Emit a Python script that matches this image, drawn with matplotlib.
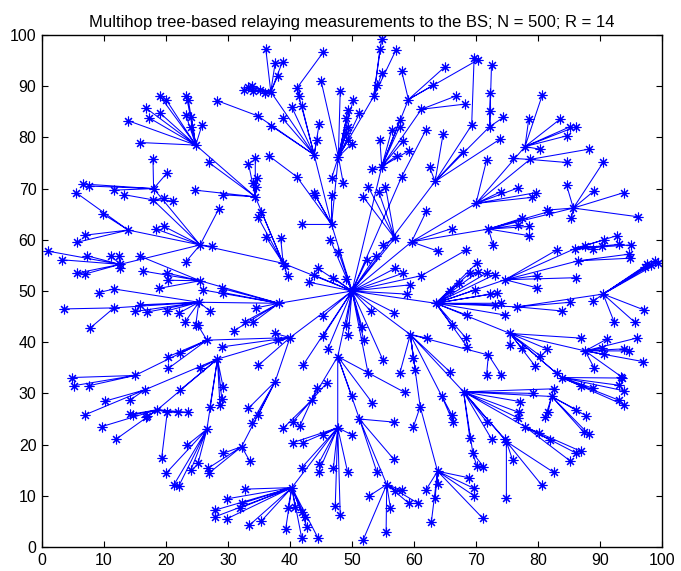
import numpy as np
import matplotlib
matplotlib.use("Agg")
import matplotlib.pyplot as plt

# Base station position
bs_x, bs_y = 50.0, 50.0

# Relay nodes: position and index of the upstream relay (-1 = base station)
relay_x = [46.7, 47.8, 43.9, 41.1, 36.9, 41.1, 53.5, 54.8, 59.1, 61.2,
           58.0, 63.4, 69.3, 72.2, 59.6, 70.0, 77.9, 78.7, 72.0, 85.7,
           56.9, 61.2, 63.5, 74.7, 86.0, 86.5, 76.6, 90.5, 75.5, 83.8,
           87.6, 59.4, 72.0, 68.0, 69.5, 77.9, 74.9, 82.2, 61.0, 63.8,
           64.5, 47.7, 43.5, 47.7, 40.3, 51.2, 55.6, 40.0, 37.6, 32.2,
           28.3, 16.6, 18.6, 20.2, 26.6, 26.6, 15.0, 38.2, 25.5, 25.3,
           11.6, 11.6, 38.9, 25.5, 13.9, 12.6, 18.0, 17.9, 34.4, 24.8,
           34.8]
relay_y = [63.0, 76.2, 76.6, 89.6, 88.9, 72.3, 88.0, 74.3, 87.4, 85.5,
           72.3, 71.4, 82.4, 82.1, 59.6, 67.1, 78.2, 75.7, 62.1, 66.2,
           60.3, 53.0, 47.6, 52.2, 58.3, 55.9, 46.9, 49.4, 41.7, 33.1,
           38.3, 41.5, 37.5, 30.3, 18.3, 23.5, 20.6, 29.4, 27.4, 14.8,
           29.4, 37.2, 28.7, 23.3, 11.6, 25.0, 12.2, 40.9, 32.3, 19.6,
           36.7, 30.7, 26.8, 26.3, 23.0, 40.4, 33.5, 47.6, 52.0, 47.8,
           50.4, 46.7, 55.4, 59.0, 61.9, 55.2, 70.0, 67.8, 68.4, 78.5,
           84.2]
relay_up = [-1, 0, 0, 2, 2, 0, 1, -1, 7, 7,
            -1, -1, 11, 11, -1, 14, 15, 15, 14, 18,
            -1, -1, -1, 22, 23, 23, 22, 26, 22, 28,
            28, -1, 31, 31, 33, 33, 33, 33, 31, 38,
            31, -1, 41, 41, 43, 41, 45, -1, 47, 48,
            47, 50, 50, 52, 50, 47, 55, -1, 57, 57,
            59, 59, -1, 62, 63, 63, 63, 63, 62, 68,
            2]

# Sensor nodes: position and index of the relay they report to (-1 = base station)
leaf_x = [42.0, 43.9, 46.7, 44.0,
          48.1, 45.0, 49.4, 49.1, 49.4, 49.1, 49.4, 50.2, 51.2, 50.0, 46.7, 48.6,
          40.3, 41.9, 38.8, 36.9, 44.7, 44.3,
          45.4, 41.5,
          36.1, 37.6, 38.8, 38.0, 32.5, 33.2, 33.8, 34.0, 35.1, 36.0,
          36.6,
          54.8, 54.5, 57.1, 54.8, 54.1,
          54.5, 56.4, 57.7, 57.7, 58.2, 59.2, 57.2, 53.2,
          58.0, 65.0, 63.1, 70.4,
          66.8, 68.2,
          61.9,
          73.8, 67.9, 64.7, 62.5,
          69.7,
          72.5, 72.3, 72.2, 74.4,
          62.0, 63.8, 66.1,
          71.7, 74.0, 76.7, 79.6, 79.1,
          80.7, 78.5, 83.5, 85.2, 86.1, 84.6, 80.3,
          88.2, 84.6, 75.9,
          72.8, 77.4, 76.8, 78.6, 78.6, 81.7,
          84.6, 89.1, 90.5, 93.8, 81.4, 85.4, 96.1,
          51.8, 52.6, 54.3, 55.4, 55.0,
          68.4,
          65.8, 67.2, 69.0, 70.1, 70.4, 71.7, 73.0, 69.8, 72.3, 73.4, 74.1, 73.0,
          74.7, 68.5, 66.1, 68.4, 68.6,
          79.8, 79.9, 86.2, 83.0,
          87.5, 88.9, 90.3, 90.7, 92.7, 93.0, 95.0,
          94.7, 94.8,
          85.2, 83.9,
          88.9, 97.1, 95.6, 92.3, 98.3, 98.8, 97.6, 99.4, 97.2,
          86.9, 75.5, 77.4, 81.4, 80.3, 79.5, 83.0,
          86.9, 88.9, 93.0, 93.9, 93.5, 93.0, 93.9,
          91.1, 95.9, 90.3, 93.8, 94.6, 90.7, 97.0, 89.1, 93.4,
          62.1, 59.9, 60.2, 57.7, 65.8,
          74.1, 71.7,
          77.1, 76.9, 76.8, 79.2, 82.6, 71.7, 72.5, 74.7, 69.0,
          71.2, 70.1,
          80.1, 81.9, 85.2, 86.2, 86.9,
          75.9, 82.5, 80.6, 74.9,
          86.2, 87.8, 87.4, 88.2, 81.6, 81.2,
          59.9,
          61.9, 63.4, 62.8, 63.8, 69.6, 69.7, 71.1, 68.9,
          66.1, 66.3,
          53.3, 58.5, 50.0,
          38.9, 40.5, 41.6, 44.3, 45.9,
          40.5, 42.1, 45.4, 41.9, 44.6, 44.6, 47.0, 49.3, 47.3, 48.1, 50.0,
          32.7, 29.8, 27.9, 27.9, 29.8, 31.9, 32.2, 33.4, 35.4, 39.3, 39.7, 40.8,
          41.9, 42.4, 42.7, 41.9, 44.5,
          56.7, 54.0, 56.7,
          52.8, 51.8, 55.5, 56.2, 58.0, 56.9, 59.2, 60.7,
          37.6, 38.0, 29.1, 34.9,
          33.3, 34.9, 33.8,
          29.2, 33.5, 26.8, 26.9,
          22.3, 27.1, 28.7, 29.2, 29.0, 25.5,
          10.2, 14.2, 6.9,
          9.6, 14.2, 12.0, 16.9, 21.9, 23.6, 14.7, 16.8,
          19.3,
          20.0, 21.3, 22.1, 24.0, 23.4, 25.2,
          20.4, 22.3, 20.4, 25.1,
          4.8, 5.1, 7.6,
          32.7, 34.1, 30.9, 34.5, 29.0, 29.2, 26.0,
          20.2, 20.4, 18.8, 15.8, 16.3,
          15.8, 15.0, 17.0, 20.1, 22.1, 23.1, 24.8, 27.1,
          9.2,
          3.5, 7.7,
          35.4, 34.8, 36.1, 38.5, 39.2, 39.6,
          18.4, 19.7, 23.2, 27.4, 28.5,
          9.9, 6.9, 5.6, 5.5,
          0.9, 3.2, 7.2, 11.2, 12.4, 12.6, 5.7, 6.9,
          17.9, 20.2, 6.6, 7.5, 11.6,
          13.3, 19.6, 21.1,
          26.9, 29.2, 33.3, 34.4, 34.6, 34.1, 34.5, 24.7,
          19.0, 20.0, 23.3, 23.6, 16.8, 19.0, 17.3, 13.8, 23.2, 24.1, 24.1, 15.8,
          25.8,
          28.2,
          53.9, 52.4, 56.9, 58.3, 59.3, 58.8, 53.0, 56.8, 51.6, 51.9, 55.0, 52.6,
          45.4, 45.4, 46.1, 49.1, 49.4, 44.5, 43.9, 47.0, 43.1, 49.1, 46.5, 47.8,
          42.1]
leaf_y = [63.0, 69.1, 68.8, 68.8,
          89.1, 91.1, 85.4, 83.7, 82.1, 80.8, 79.5, 87.3, 84.7, 78.8, 72.0, 71.0,
          85.9, 86.2, 83.7, 82.3, 82.6, 79.4,
          96.7, 88.1,
          97.2, 94.5, 94.8, 91.9, 89.3, 89.8, 90.0, 89.0, 89.2, 88.7,
          76.4,
          99.3, 97.2, 97.1, 92.5, 90.2,
          79.4, 81.4, 83.4, 82.1, 79.2, 77.4, 76.4, 73.8,
          93.0, 93.8, 90.2, 95.2,
          88.1, 86.5,
          81.4,
          79.6, 77.2, 80.7, 74.2,
          95.6,
          94.1, 88.6, 85.2, 83.9,
          65.6, 57.8, 62.2,
          75.5, 69.4, 70.1, 69.2, 68.3,
          88.3, 83.5, 83.5, 82.1, 82.1, 80.3, 77.7,
          77.7, 75.1, 75.9,
          58.9, 64.2, 62.9, 62.6, 60.8, 65.5,
          70.7, 69.6, 75.1, 69.2, 65.8, 64.2, 64.5,
          68.4, 70.4, 69.4, 70.4, 59.0,
          58.0,
          50.0, 51.5, 53.5, 55.4, 53.8, 53.5, 53.2, 50.2, 49.4, 49.6, 47.6, 47.3,
          45.3, 45.3, 43.4, 40.8, 39.1,
          53.0, 50.6, 52.6, 58.0,
          58.7, 58.2, 58.7, 60.0, 60.8, 59.1, 59.0,
          57.2, 56.4,
          47.8, 46.1,
          48.0, 46.3, 43.9, 43.9, 55.1, 55.8, 55.2, 55.5, 54.7,
          40.8, 39.5, 38.8, 38.7, 37.4, 35.4, 33.9,
          31.5, 31.0, 28.7, 27.7, 33.0, 31.6, 30.5,
          40.6, 40.8, 38.8, 38.7, 38.3, 37.6, 36.2, 34.9, 33.3,
          40.8, 36.9, 34.6, 33.9, 34.2,
          33.6, 33.6,
          28.4, 26.3, 25.2, 30.0, 30.9, 24.5, 21.1, 21.0, 21.3,
          15.7, 15.9,
          22.2, 20.9, 16.8, 18.3, 18.7,
          17.0, 14.6, 12.1, 9.5,
          26.8, 25.6, 22.4, 22.0, 26.3, 25.4,
          23.5,
          11.1, 9.5, 4.9, 12.4, 11.5, 10.0, 5.6, 13.5,
          25.8, 24.4,
          28.1, 30.2, 29.4,
          23.2, 24.5, 23.7, 31.0, 32.0,
          20.4, 20.4, 21.9, 15.5, 16.3, 14.6, 15.4, 14.6, 8.1, 6.2, 21.9,
          11.3, 9.4, 7.2, 5.9, 5.5, 7.6, 8.5, 4.2, 5.1, 3.5, 7.7, 7.9,
          6.8, 5.9, 4.0, 1.7, 1.8,
          17.2, 14.7, 24.4,
          10.0, 1.4, 2.9, 7.6, 11.1, 11.0, 8.5, 8.5,
          41.7, 40.4, 39.1, 35.5,
          27.1, 25.8, 24.2,
          18.3, 16.8, 15.4, 14.4,
          30.7, 27.4, 27.7, 31.3, 28.9, 34.9,
          28.5, 28.7, 25.8,
          23.5, 25.9, 21.1, 25.5, 26.3, 26.3, 25.8, 25.3,
          17.4,
          14.4, 12.2, 12.0, 15.0, 19.9, 16.5,
          37.2, 37.8, 34.9, 43.4,
          33.1, 31.5, 31.5,
          44.0, 43.9, 42.2, 46.7, 50.5, 49.7, 50.2,
          53.5, 52.1, 50.5, 56.8, 53.9,
          47.3, 46.0, 45.9, 46.1, 45.7, 44.0, 43.4, 46.1,
          49.7,
          46.5, 42.7,
          65.5, 64.5, 60.6, 60.3, 54.8, 53.0,
          62.1, 62.6, 55.7, 58.7, 66.0,
          65.0, 60.9, 59.5, 69.2,
          57.8, 56.1, 56.9, 56.8, 56.8, 54.4, 53.5, 53.3,
          75.7, 73.1, 70.9, 70.5, 69.7,
          68.8, 68.1, 67.6,
          75.1, 68.8, 74.9, 75.9, 72.0, 71.0, 70.4, 69.7,
          88.1, 87.4, 88.1, 87.3, 85.7, 84.8, 83.8, 83.3, 84.4, 83.9, 82.1, 79.0,
          82.4,
          87.2,
          56.9, 56.1, 54.4, 53.5, 51.2, 49.4, 46.1, 45.8, 43.0, 40.4, 36.5, 33.9,
          45.2, 41.3, 38.7, 43.4, 41.4, 54.4, 53.1, 52.6, 51.7, 52.3, 60.0, 57.7,
          35.5]
leaf_up = [0, 0, 0, 0,
           1, 1, 1, 1, 1, 1, 1, 1, 1, 1, 1, 1,
           2, 2, 2, 2, 2, 2,
           3, 3,
           4, 4, 4, 4, 4, 4, 4, 4, 4, 4,
           5,
           6, 6, 6, 6, 6,
           7, 7, 7, 7, 7, 7, 7, 7,
           8, 8, 8, 8,
           9, 9,
           10,
           11, 11, 11, 11,
           12,
           13, 13, 13, 13,
           14, 14, 14,
           15, 15, 15, 15, 15,
           16, 16, 16, 16, 16, 16, 16,
           17, 17, 17,
           18, 18, 18, 18, 18, 18,
           19, 19, 19, 19, 19, 19, 19,
           20, 20, 20, 20, 20,
           21,
           22, 22, 22, 22, 22, 22, 22, 22, 22, 22, 22, 22,
           22, 22, 22, 22, 22,
           23, 23, 23, 23,
           24, 24, 24, 24, 24, 24, 24,
           25, 25,
           26, 26,
           27, 27, 27, 27, 27, 27, 27, 27, 27,
           28, 28, 28, 28, 28, 28, 28,
           29, 29, 29, 29, 29, 29, 29,
           30, 30, 30, 30, 30, 30, 30, 30, 30,
           31, 31, 31, 31, 31,
           32, 32,
           33, 33, 33, 33, 33, 33, 33, 33, 33,
           34, 34,
           35, 35, 35, 35, 35,
           36, 36, 36, 36,
           37, 37, 37, 37, 37, 37,
           38,
           39, 39, 39, 39, 39, 39, 39, 39,
           40, 40,
           41, 41, 41,
           42, 42, 42, 42, 42,
           43, 43, 43, 43, 43, 43, 43, 43, 43, 43, 43,
           44, 44, 44, 44, 44, 44, 44, 44, 44, 44, 44, 44,
           44, 44, 44, 44, 44,
           45, 45, 45,
           46, 46, 46, 46, 46, 46, 46, 46,
           47, 47, 47, 47,
           48, 48, 48,
           49, 49, 49, 49,
           50, 50, 50, 50, 50, 50,
           51, 51, 51,
           52, 52, 52, 52, 52, 52, 52, 52,
           53,
           54, 54, 54, 54, 54, 54,
           55, 55, 55, 55,
           56, 56, 56,
           57, 57, 57, 57, 57, 57, 57,
           58, 58, 58, 58, 58,
           59, 59, 59, 59, 59, 59, 59, 59,
           60,
           61, 61,
           62, 62, 62, 62, 62, 62,
           63, 63, 63, 63, 63,
           64, 64, 64, 64,
           65, 65, 65, 65, 65, 65, 65, 65,
           66, 66, 66, 66, 66,
           67, 67, 67,
           68, 68, 68, 68, 68, 68, 68, 68,
           69, 69, 69, 69, 69, 69, 69, 69, 69, 69, 69, 69,
           69,
           70,
           -1, -1, -1, -1, -1, -1, -1, -1, -1, -1, -1, -1,
           -1, -1, -1, -1, -1, -1, -1, -1, -1, -1, -1, -1,
           -1]

assert len(leaf_x) == len(leaf_y) == len(leaf_up)
assert len(relay_x) == len(relay_y) == len(relay_up)


def upstream(idx):
    if idx < 0:
        return bs_x, bs_y
    return relay_x[idx], relay_y[idx]


# Build all links as one polyline broken by NaNs
seg_x, seg_y = [], []
for x, y, up in zip(relay_x + leaf_x, relay_y + leaf_y, relay_up + leaf_up):
    px, py = upstream(up)
    seg_x += [x, px, np.nan]
    seg_y += [y, py, np.nan]

plt.rcParams['font.family'] = ['Liberation Sans', 'DejaVu Sans']

fig = plt.figure(figsize=(6.81, 5.71), dpi=100)
ax = fig.add_axes([42 / 681, 24 / 571, 620 / 681, 512 / 571])

blue = (0, 0, 1)
star = (8, 2, 0)
ax.plot(seg_x, seg_y, '-', color=blue, lw=0.75)
ax.plot(relay_x + leaf_x + [bs_x], relay_y + leaf_y + [bs_y], linestyle='none',
        marker=star, ms=7, mew=0.8, color=blue)

ax.set_xlim(0, 100)
ax.set_ylim(0, 100)
ax.set_xticks(np.arange(0, 101, 10))
ax.set_yticks(np.arange(0, 101, 10))
ax.tick_params(direction='in', length=4, width=0.8, top=True, right=True,
               labelsize=11.5, pad=4)
for s in ax.spines.values():
    s.set_linewidth(1.0)
ax.set_title("Multihop tree-based relaying measurements to the BS; N = 500; R = 14",
             fontsize=12, pad=6)

fig.savefig("out.png", dpi=100)
